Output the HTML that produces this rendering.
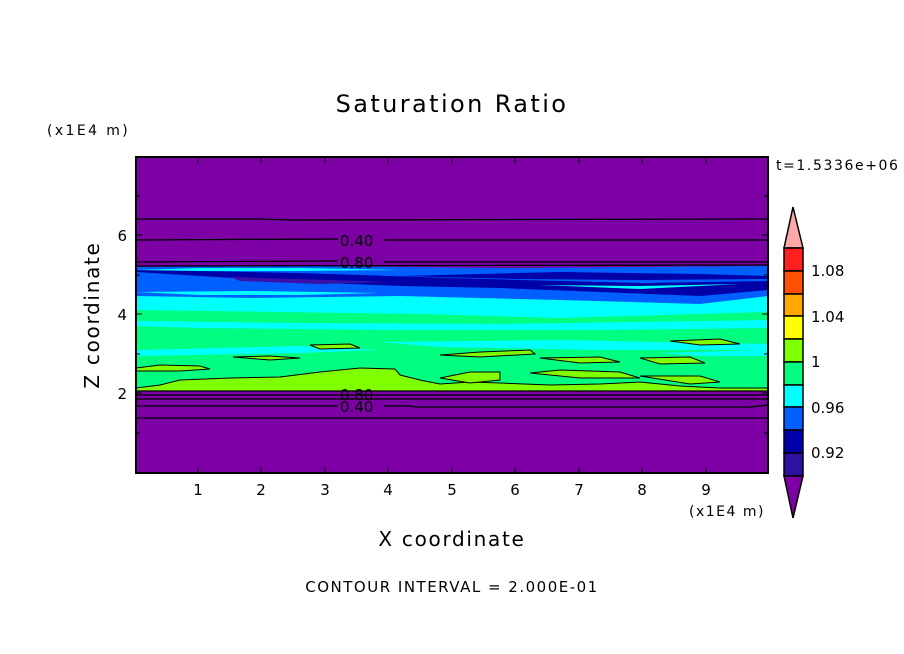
<!DOCTYPE html>
<html><head><meta charset="utf-8"><style>
body{margin:0;background:#fff}
svg{display:block}
text{font-family:"DejaVu Sans","Liberation Sans",sans-serif;fill:#000}
</style></head><body>
<svg width="904" height="654" viewBox="0 0 904 654" xmlns="http://www.w3.org/2000/svg">
<defs><clipPath id="c"><rect x="136" y="157" width="632" height="316"/></clipPath></defs>
<text x="452" y="112" font-size="24" letter-spacing="2.4" text-anchor="middle">Saturation Ratio</text>
<text x="47" y="135" font-size="14" letter-spacing="2.4">(x1E4 m)</text>
<text x="776" y="170" font-size="14" letter-spacing="1.6">t=1.5336e+06</text>
<g clip-path="url(#c)">
<rect x="136" y="157" width="632" height="316" fill="#7d00a5"/>
<path d="M136 267 L300 266 L500 268 L768 266 L768 391 L136 391 Z" fill="#0060ff"/>
<path d="M136 270 L300 273 L420 277 L520 280 L640 283 L768 281 L768 290 L700 296 L600 292 L500 288 L400 286 L300 282 L200 276 L136 272 Z" fill="#0000a8"/>
<path d="M230 277 L330 280 L390 282 L320 284 L240 281 Z" fill="#3a10a8"/>
<path d="M400 276 L560 272 L700 274 L768 276 L768 279 L640 280 L520 279 Z" fill="#0000a8"/>
<path d="M136 296 L250 298 L400 296 L560 300 L700 304 L768 296 L768 391 L136 391 Z" fill="#00ffff"/>
<path d="M136 310 L280 312 L420 314 L560 318 L768 312 L768 391 L136 391 Z" fill="#00ff80"/>
<path d="M136 321 L300 323 L500 324 L768 320 L768 328 L600 330 L400 330 L200 328 L136 326 Z" fill="#00ffff"/>
<path d="M380 342 L560 340 L768 344 L768 350 L600 350 L440 347 Z" fill="#00ffff"/>
<path d="M136 350 L300 346 L380 350 L300 353 L136 356 Z" fill="#00ffff"/>
<path d="M660 353 L768 350 L768 356 L700 356 Z" fill="#00ffff"/>
<path d="M136 270 L200 268 L300 268 L400 270 L300 271 L200 271 Z" fill="#00ffff"/>
<path d="M136 292 L250 291 L380 293 L300 295 L200 295 Z" fill="#00ffff"/>
<path d="M540 285 L640 286 L740 284 L640 289 Z" fill="#00ffff"/>
<g fill="#80ff00" stroke="#000" stroke-width="1">
<path d="M136 388 L160 385 L180 380 L230 378 L280 377 L320 372 L360 368 L395 369 L400 375 L420 380 L440 384 L470 382 L500 383 L550 385 L600 384 L640 382 L680 386 L720 388 L768 388 L768 391 L136 391 Z"/>
<path d="M440 378 L470 372 L500 372 L500 380 L470 383 Z"/>
<path d="M136 368 L160 365 L200 366 L210 369 L180 371 L136 371 Z"/>
<path d="M440 355 L480 352 L530 350 L535 354 L480 357 Z"/>
<path d="M540 358 L600 357 L620 362 L580 363 Z"/>
<path d="M640 358 L690 357 L705 363 L660 364 Z"/>
<path d="M530 373 L560 370 L620 372 L640 378 L580 378 Z"/>
<path d="M640 376 L700 376 L720 382 L690 384 Z"/>
<path d="M670 341 L720 339 L740 344 L700 345 Z"/>
<path d="M233 357 L270 356 L300 358 L270 360 Z"/>
<path d="M310 345 L350 344 L360 348 L320 349 Z"/>
</g>
</g>
<g stroke="#000" stroke-width="1.3" fill="none" clip-path="url(#c)">
<path d="M136 219 L260 219 L290 220 L768 219"/>
<path d="M136 240 L338 239 M384 240 L768 240"/>
<path d="M136 262 L338 261 M384 262 L768 262"/>
<path d="M136 266 L768 265"/>
<path d="M136 391 L768 391"/>
<path d="M136 395 L768 395"/>
<path d="M136 399 L768 399"/>
<path d="M136 406 L338 406 M384 406 L410 406 L415 407 L750 407 L768 405"/>
<path d="M136 418 L768 418"/>
</g>
<text x="340" y="246" font-size="15">0.40</text>
<text x="340" y="268" font-size="15">0.80</text>
<text x="340" y="400" font-size="15">0.80</text>
<text x="340" y="412" font-size="15">0.40</text>
<rect x="136" y="157" width="632" height="316" fill="none" stroke="#000" stroke-width="2"/>
<g stroke="#000" stroke-width="1">
<path d="M198 157v6M261 157v6M325 157v6M388 157v6M452 157v6M515 157v6M579 157v6M642 157v6M706 157v6M198 473v-6M261 473v-6M325 473v-6M388 473v-6M452 473v-6M515 473v-6M579 473v-6M642 473v-6M706 473v-6"/>
<path d="M136 433h4M136 393h6M136 354h4M136 314h6M136 275h4M136 235h6M136 196h4M768 433h-4M768 393h-6M768 354h-4M768 314h-6M768 275h-4M768 235h-6M768 196h-4"/>
</g>
<g font-size="15" text-anchor="middle">
<text x="198" y="495">1</text><text x="261" y="495">2</text><text x="325" y="495">3</text><text x="388" y="495">4</text><text x="452" y="495">5</text><text x="515" y="495">6</text><text x="579" y="495">7</text><text x="642" y="495">8</text><text x="706" y="495">9</text>
</g>
<g font-size="15" text-anchor="end">
<text x="127" y="399">2</text><text x="127" y="320">4</text><text x="127" y="241">6</text>
</g>
<text x="689" y="516" font-size="14" letter-spacing="1.5">(x1E4 m)</text>
<text x="452" y="546" font-size="20" letter-spacing="1.7" text-anchor="middle">X coordinate</text>
<text transform="translate(99,315) rotate(-90)" font-size="20" letter-spacing="1.7" text-anchor="middle">Z coordinate</text>
<text x="452" y="592" font-size="15" letter-spacing="1.5" text-anchor="middle">CONTOUR INTERVAL = 2.000E-01</text>
<g stroke="#000" stroke-width="1.5">
<path d="M793 207 L803 248 L784 248 Z" fill="#ffa8a8"/>
<rect x="784" y="248" width="19" height="23" fill="#ff2020"/>
<rect x="784" y="271" width="19" height="23" fill="#ff5000"/>
<rect x="784" y="294" width="19" height="22" fill="#ffa800"/>
<rect x="784" y="316" width="19" height="23" fill="#ffff00"/>
<rect x="784" y="339" width="19" height="23" fill="#80ff00"/>
<rect x="784" y="362" width="19" height="23" fill="#00ff80"/>
<rect x="784" y="385" width="19" height="22" fill="#00ffff"/>
<rect x="784" y="407" width="19" height="23" fill="#0060ff"/>
<rect x="784" y="430" width="19" height="23" fill="#0000a8"/>
<rect x="784" y="453" width="19" height="23" fill="#3010a0"/>
<path d="M784 476 L803 476 L793 518 Z" fill="#7d00a5"/>
</g>
<g font-size="15">
<text x="811" y="276">1.08</text><text x="811" y="322">1.04</text><text x="811" y="367">1</text><text x="811" y="413">0.96</text><text x="811" y="458">0.92</text>
</g>
</svg>
</body></html>
